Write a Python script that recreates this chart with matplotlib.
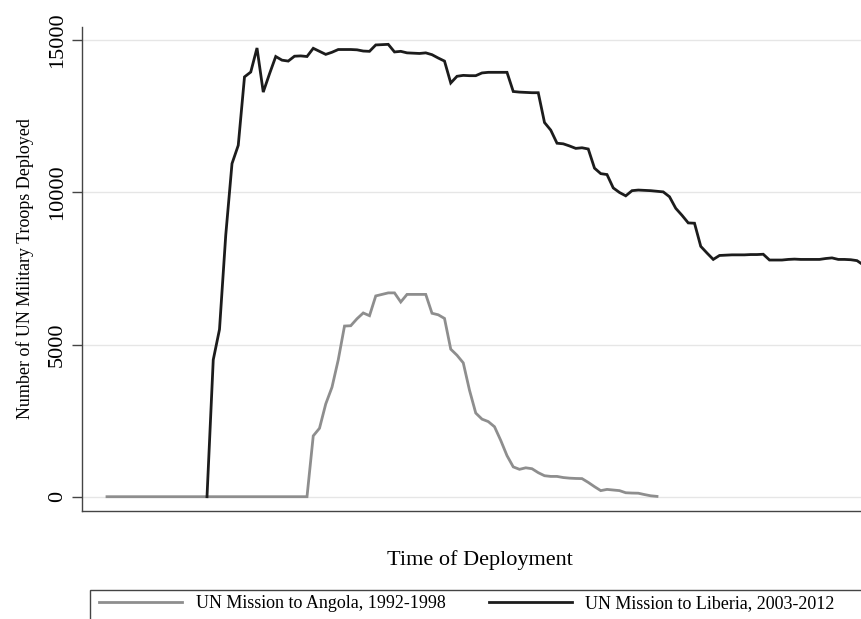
import numpy as np
import matplotlib
matplotlib.use("Agg")
import matplotlib.pyplot as plt
from matplotlib.patches import Rectangle

plt.rcParams['font.family'] = ['Liberation Serif', 'DejaVu Serif']

# monthly troop counts
angola_troops = [0] * 33 + [
    2000, 2250, 3050, 3600, 4500, 5610, 5620, 5850, 6040, 5950,
    6600, 6650, 6700, 6700, 6400, 6650, 6650, 6650, 6650, 6030,
    5980, 5860, 4850, 4650, 4400, 3500, 2750, 2550, 2470, 2300,
    1850, 1350, 980, 900, 950, 920, 790, 690, 667, 667,
    630, 610, 600, 595, 470, 330, 200, 240, 220, 200,
    130, 120, 115, 70, 30, 10]
liberia_troops = [
    0, 4500, 5500, 8600, 10950, 11550, 13800, 13960, 14750, 13300,
    13900, 14470, 14350, 14320, 14480, 14490, 14470, 14740, 14640, 14540,
    14610, 14700, 14700, 14700, 14690, 14650, 14640, 14850, 14860, 14870,
    14620, 14640, 14590, 14580, 14570, 14590, 14530, 14420, 14320, 13600,
    13820, 13850, 13840, 13840, 13930, 13950, 13950, 13950, 13950, 13320,
    13300, 13290, 13280, 13280, 12300, 12050, 11620, 11600, 11530, 11450,
    11470, 11430, 10800, 10620, 10590, 10150, 10000, 9890, 10060, 10080,
    10070, 10060, 10040, 10020, 9860, 9480, 9250, 9000, 8990, 8230,
    8010, 7800, 7930, 7940, 7950, 7950, 7950, 7960, 7960, 7970,
    7780, 7780, 7780, 7800, 7810, 7800, 7800, 7800, 7800, 7830,
    7850, 7800, 7800, 7790, 7760, 7620, 6900]
liberia_start = 16

angola_month = np.arange(len(angola_troops))
liberia_month = np.arange(len(liberia_troops)) + liberia_start

fig = plt.figure(figsize=(8.61, 6.19), dpi=100)
ax = fig.add_axes([82/861, 1 - 510.7/619, 1 - 82/861, (510.7 - 26.7)/619])

grey = '#8e8e8e'
black = '#1c1c1c'
ax.plot(angola_month, angola_troops, color=grey, lw=2.0, label='UN Mission to Angola, 1992-1998',
        solid_joinstyle='miter', zorder=3)
ax.plot(liberia_month, liberia_troops, color=black, lw=2.0, label='UN Mission to Liberia, 2003-2012',
        solid_joinstyle='miter', zorder=3)

ax.set_xlim(-4.0, 120.64)
ax.set_ylim(-460, 15450)
ax.set_yticks([0, 5000, 10000, 15000])
ax.set_xticks([])
ax.grid(axis='y', color='#e6e6e6', lw=1.0, zorder=0)
ax.tick_params(axis='y', length=7, width=1.0, color='#444444', pad=4, labelsize=16)
plt.setp(ax.get_yticklabels(), rotation=90, va='center')
for s in ['top', 'right']:
    ax.spines[s].set_visible(False)
for s in ['left', 'bottom']:
    ax.spines[s].set_color('#444444')
    ax.spines[s].set_linewidth(1.0)

ax.set_ylabel('Number of UN Military Troops Deployed', fontsize=13, labelpad=10)
fig.text(480/861, 1 - 560/619, 'Time of Deployment', fontsize=16, ha='center', va='center')

# legend box runs past the bottom and right edges, as in the original
fig.patches.append(Rectangle((90/861, 1 - 640/619), 900/861, 50/619, transform=fig.transFigure,
                             fill=False, edgecolor='#444444', lw=1.0, clip_on=False))
fig.legend(loc='center left', bbox_to_anchor=(99/861, 1 - 604/619), ncol=2, frameon=False,
           fontsize=13, handlelength=4.6, handletextpad=0.75, columnspacing=2.4,
           borderaxespad=0, borderpad=0)

fig.savefig('out.png', dpi=100)
